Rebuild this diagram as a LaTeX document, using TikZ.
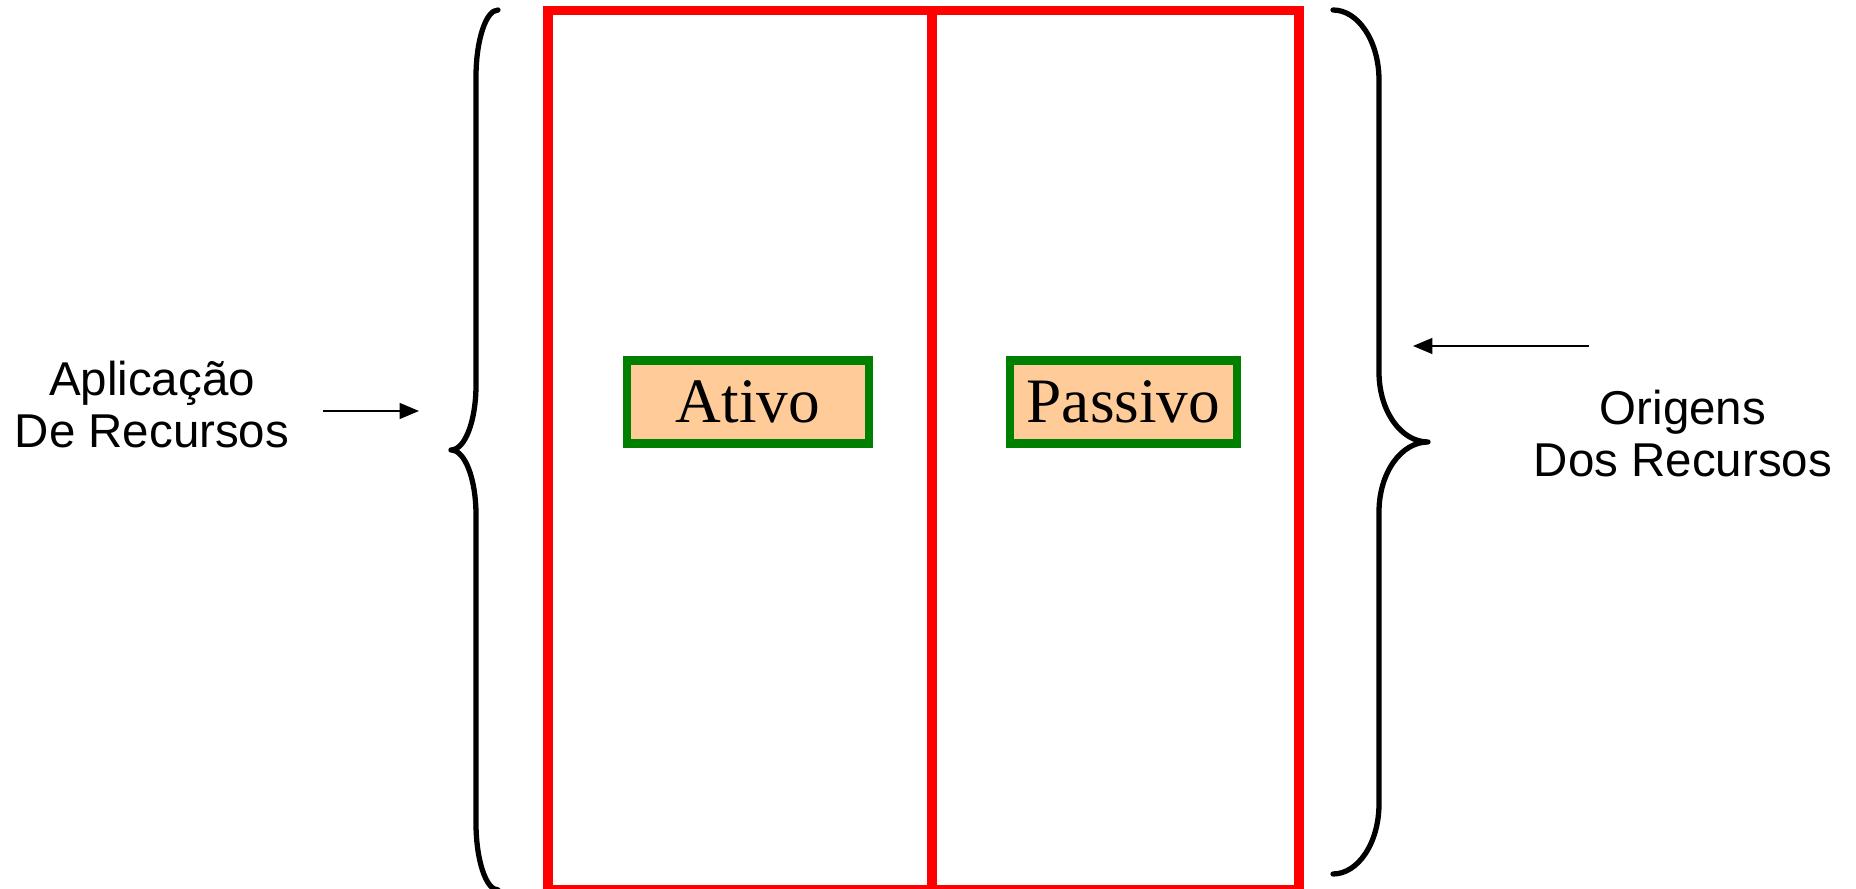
\documentclass[tikz,border=0pt]{standalone}
\usepackage{fontspec}
\setmainfont{Liberation Serif}
\newfontfamily\arialfont{Liberation Sans}
\usetikzlibrary{arrows.meta}
\definecolor{boxfill}{HTML}{FFCC99}
\definecolor{boxline}{HTML}{008000}

\begin{document}
\begin{tikzpicture}[x=0.01cm, y=-0.01cm,
    brace/.style={line width=1.5pt, line cap=round, line join=round},
    pane/.style={draw=red, line width=2.6pt},
    partbox/.style={draw=boxline, fill=boxfill, line width=2.3pt, minimum height=0.83cm, inner sep=0pt, font=\fontsize{18}{20}\selectfont},
    sidetext/.style={align=center, inner sep=0pt, font=\arialfont\fontsize{13.5}{14.8}\selectfont},
    pointer/.style={line width=0.5pt, -{Triangle[length=5.5pt, width=4.5pt]}}]
    \useasboundingbox (0, 0) rectangle (1856, 889);

    \draw[pane] (548, 10.5) rectangle (1299, 890);
    \draw[pane] (932, 10.5) -- (932, 890);

    \draw[brace] (498, 10) .. controls (486, 10) and (476, 40) .. (476, 77)
        -- (476, 385) .. controls (476, 421) and (465, 450) .. (451, 450)
        .. controls (465, 450) and (476, 479) .. (476, 515)
        -- (476, 823) .. controls (476, 860) and (486, 890) .. (498, 890);
    \draw[brace] (1333, 10) .. controls (1358, 10) and (1379, 41) .. (1379, 80)
        -- (1379, 372) .. controls (1379, 411) and (1401, 442) .. (1428, 442)
        .. controls (1401, 442) and (1379, 473) .. (1379, 512)
        -- (1379, 804) .. controls (1379, 843) and (1358, 874) .. (1333, 874);

    \node[partbox, minimum width=2.41cm] (ativo) at (748, 402) {Ativo};
    \node[partbox, minimum width=2.26cm] (passivo) at (1123.5, 402) {Passivo};

    \node[sidetext] (aplicacao) at (152, 405) {Aplicação\\De Recursos};
    \node[sidetext] (origens) at (1683, 434) {Origens\\Dos Recursos};

    \coordinate (aplic-from) at (323, 411);
    \coordinate (aplic-to) at (419, 411);
    \draw[pointer] (aplic-from) -- (aplic-to);
    \coordinate (orig-from) at (1589, 346);
    \coordinate (orig-to) at (1413, 346);
    \draw[pointer] (orig-from) -- (orig-to);
\end{tikzpicture}
\end{document}
